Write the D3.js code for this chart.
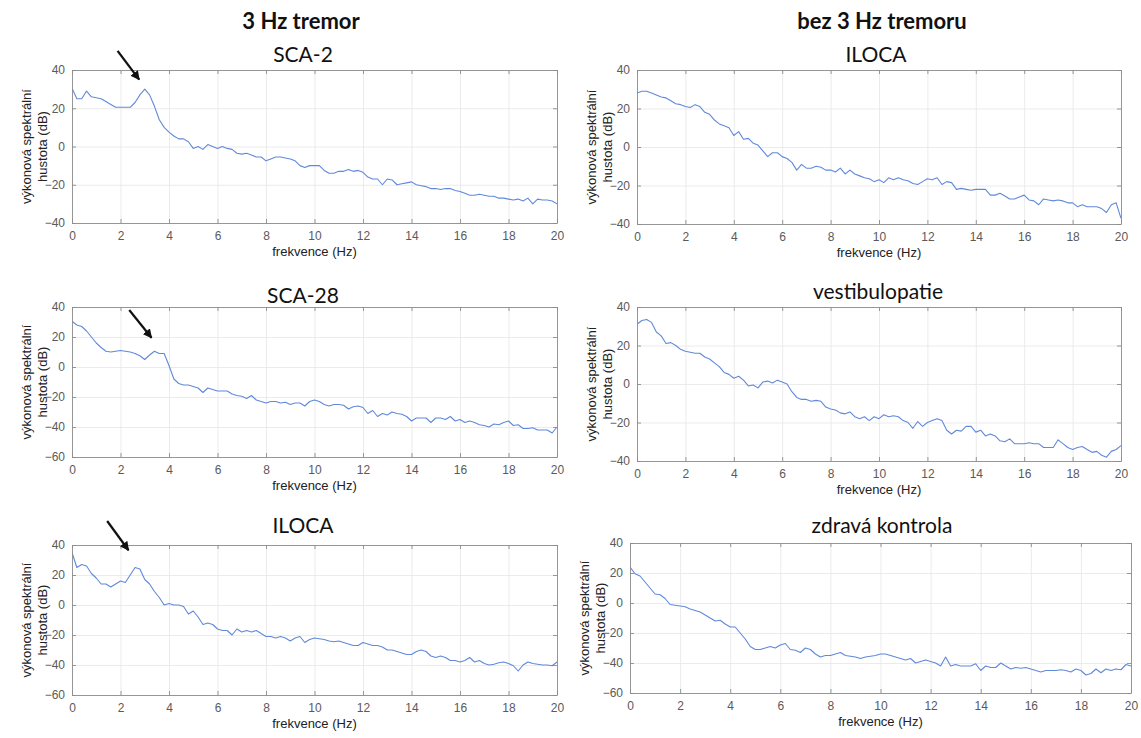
<!DOCTYPE html>
<html>
<head>
<meta charset="utf-8">
<script src="https://cdn.jsdelivr.net/npm/d3@7"></script>
<style>
  body { margin: 0; background: #fff; }
  svg { display: block; }
</style>
</head>
<body>
<svg id="fig" width="1141" height="738"></svg>
<script>
// Power spectral density (dB) sampled every 0.2 Hz from 0 to 20 Hz.
const freqStep = 0.2;

const sca2Db = [30.5, 25, 25, 29, 26, 25.5, 25, 23.5, 22, 20.5,
  20.5, 20.5, 20.5, 23, 27, 30, 27, 21, 14, 10,
  7.5, 5.5, 4, 4, 2.5, -1, 0, -1.5, 1, 0,
  -1, 0, -1, -1.5, -3.5, -4, -3.5, -4.5, -5.5, -5.5,
  -7.5, -6.5, -5.5, -5.5, -6, -6.5, -7.5, -10, -11, -10,
  -10, -10, -12.5, -14, -14, -13, -13, -12, -13, -12.5,
  -13.5, -16, -17, -17, -20, -17, -17.5, -20, -19.5, -19,
  -18.5, -20, -20.5, -21, -22, -22, -22.5, -22, -22, -23,
  -23.5, -24.5, -25.5, -25.5, -25, -25.5, -26, -26, -27, -27,
  -27.5, -28, -27.5, -28.5, -27, -30, -27.5, -28, -28, -28.5, -30];

const ilocaNoTremorDb = [28, 29, 29, 28, 27, 26, 25.5, 24, 22.5, 22,
  21, 20.5, 22, 21, 18, 17, 14, 12, 11, 10,
  6, 8, 4, 4.5, 2, 1, -2, -5, -3, -3,
  -5, -6, -8, -12, -9, -11, -11, -10, -10.5, -12,
  -12, -13, -11, -14, -12, -14, -15, -16, -16.5, -18,
  -17, -18.5, -16, -17, -16, -17, -17.5, -19, -19.5, -18,
  -16.5, -17, -16, -19.5, -18, -18.5, -22, -21.5, -22, -22.5,
  -22, -22, -22, -25, -25, -24, -25.5, -27, -27, -26,
  -25, -27.5, -28, -30, -27, -27.5, -28, -27.5, -28, -29,
  -29, -31, -30, -31, -31, -31, -32, -34, -30, -29, -37];

const sca28Db = [30.5, 28, 27, 24, 20, 16, 13, 10.5, 10, 10.5,
  11, 10.5, 10, 9, 7.5, 5, 8, 10.5, 9, 9,
  1, -8, -11, -12, -12, -13, -14, -17, -14, -15,
  -16, -16, -16, -18, -19, -19.5, -21, -19, -22, -23,
  -24, -23, -23, -24, -23.5, -25, -24, -24, -26, -23,
  -22, -23, -25, -26, -25, -25, -25.5, -28, -26.5, -26,
  -27, -31, -29, -33, -31, -32, -30, -31, -31.5, -33,
  -36, -34, -34, -34, -37, -34, -34, -35, -33, -36,
  -35, -37, -36, -37, -38.5, -39, -40, -38, -38.5, -37,
  -36, -39, -38.5, -41, -41, -40.5, -42, -42, -42, -44, -40];

const vestibulopathyDb = [31, 33, 33.5, 32, 27, 25, 21, 21.5, 20, 18,
  17, 16.5, 16, 16, 14, 13, 11, 9, 6, 5,
  3, 4, 2, -1, -0.5, -2, 1, 1.5, 0.5, 2,
  1, 0, -4, -7, -8, -8, -9, -8.5, -9, -12,
  -13, -13.5, -15, -15.5, -14.5, -17, -18, -17, -19, -17,
  -18, -16, -17, -16.5, -17, -19, -20, -23, -19.5, -22,
  -20, -19, -18, -19, -24, -26, -24, -24.5, -22, -22,
  -25, -24, -27, -26, -27, -29.5, -30, -28.5, -31, -31,
  -31, -30.5, -31, -31, -33, -33, -33, -29, -31, -33,
  -34, -33, -32.5, -34, -35.5, -35, -37, -38, -35, -34, -32];

const iloca3HzDb = [35, 25, 27, 26, 21, 18, 14, 14, 12, 14,
  16, 15, 20, 25, 24, 17, 14, 9, 5, 0,
  1, 0, 0, -1, -6, -4, -8, -13, -12, -13,
  -16, -17, -17, -20, -16, -18, -17, -18, -17, -19,
  -21, -21, -22, -21, -22, -24, -22, -21, -25, -23,
  -22, -22.5, -23, -24, -24.5, -24, -25, -26, -27, -27,
  -25, -26, -27, -27, -28, -30, -30, -31, -32, -33,
  -33, -31, -30, -31, -34, -35, -34, -35, -37, -37,
  -38, -37, -35, -38, -37, -39, -40, -39.5, -38.5, -38,
  -39, -40.5, -44, -40, -38, -39, -39.5, -40, -40, -40.5, -38];

const healthyControlDb = [24, 19.5, 18, 14, 10, 6, 5.5, 3, -1, -1.5,
  -2, -2.5, -4, -5, -6, -8, -10, -12, -11.5, -14,
  -16, -16, -20, -24, -29, -31, -31, -30, -29, -30,
  -28, -27, -31, -31.5, -33, -30, -31, -34, -36, -35,
  -35, -34, -33, -35, -35.5, -36, -37, -36, -35.5, -35,
  -34, -34, -35, -36, -37, -38, -37, -40, -39, -38,
  -39, -40, -42, -36, -42, -41, -42, -42, -42, -40.5,
  -45, -42, -43, -43, -40, -42, -44, -43, -43.5, -43,
  -44, -45, -46, -45, -45, -45, -44.5, -45, -46, -44,
  -45, -48, -47, -44, -46.5, -44, -45, -44, -44.5, -41, -42];

const groupHeaders = ["3 Hz tremor", "bez 3 Hz tremoru"];
const panelTitles = ["SCA-2", "ILOCA", "SCA-28", "vestibulopatie", "ILOCA", "zdravá kontrola"];
const xTicks = [0, 2, 4, 6, 8, 10, 12, 14, 16, 18, 20];
const yTicksWide = [-60, -40, -20, 0, 20, 40];
const yTicksNarrow = [-40, -20, 0, 20, 40];
const xLabel = "frekvence (Hz)";
const yLabelLines = ["výkonová spektrální", "hustota (dB)"];

// Arrows pointing at the ~3 Hz peak: [fromHz, fromDb, toHz, toDb]
const peakArrowSca2 = [1.88, 50, 2.77, 35];
const peakArrowSca28 = [2.36, 38, 3.28, 19.5];
const peakArrowIloca = [1.45, 56, 2.33, 36.5];

const lineColor = "#6189da";

const panels = [
  { values: sca2Db, title: panelTitles[0], yTicks: yTicksNarrow, arrow: peakArrowSca2,
    left: 72, right: 557, top: 70, bottom: 223, titleX: 303, titleY: 62 },
  { values: ilocaNoTremorDb, title: panelTitles[1], yTicks: yTicksNarrow, arrow: null,
    left: 637, right: 1121, top: 70, bottom: 224, titleX: 876, titleY: 62 },
  { values: sca28Db, title: panelTitles[2], yTicks: yTicksWide, arrow: peakArrowSca28,
    left: 72, right: 557, top: 307, bottom: 457, titleX: 303, titleY: 303 },
  { values: vestibulopathyDb, title: panelTitles[3], yTicks: yTicksNarrow, arrow: null,
    left: 637, right: 1121, top: 307, bottom: 461, titleX: 878, titleY: 299 },
  { values: iloca3HzDb, title: panelTitles[4], yTicks: yTicksWide, arrow: peakArrowIloca,
    left: 72, right: 557, top: 545, bottom: 695, titleX: 303, titleY: 533 },
  { values: healthyControlDb, title: panelTitles[5], yTicks: yTicksWide, arrow: null,
    left: 630, right: 1131, top: 543, bottom: 693, titleX: 882, titleY: 533 }
];

const svg = d3.select("#fig");

const defs = svg.append("defs");
defs.append("marker")
  .attr("id", "arrowHead")
  .attr("viewBox", "0 0 10 10")
  .attr("refX", 9).attr("refY", 5)
  .attr("markerWidth", 4.2).attr("markerHeight", 4.2)
  .attr("markerUnits", "strokeWidth")
  .attr("orient", "auto")
  .append("path")
  .attr("d", "M0,0 L10,5 L0,10 z")
  .attr("fill", "#111");

// Column headers
svg.append("text")
  .attr("x", 301).attr("y", 29)
  .attr("text-anchor", "middle")
  .style("font-family", "Lato, 'Open Sans', sans-serif")
  .style("font-weight", "bold").style("font-size", "22px").style("fill", "#111")
  .text(groupHeaders[0]);
svg.append("text")
  .attr("x", 882).attr("y", 29)
  .attr("text-anchor", "middle")
  .style("font-family", "Lato, 'Open Sans', sans-serif")
  .style("font-weight", "bold").style("font-size", "22px").style("fill", "#111")
  .text(groupHeaders[1]);

panels.forEach((p, idx) => {
  const w = p.right - p.left;
  const h = p.bottom - p.top;
  const yDomain = d3.extent(p.yTicks);
  const x = d3.scaleLinear().domain([0, 20]).range([0, w]);
  const y = d3.scaleLinear().domain(yDomain).range([h, 0]);

  const g = svg.append("g").attr("transform", `translate(${p.left},${p.top})`);

  // grid
  g.append("g").attr("class", "grid")
    .attr("transform", `translate(0,${h})`)
    .call(d3.axisBottom(x).tickValues(xTicks).tickSize(-h).tickFormat(""))
    .call(s => s.select(".domain").remove())
    .call(s => s.selectAll("line").attr("stroke", "#e6e6e6").attr("stroke-width", 0.8));
  g.append("g").attr("class", "grid")
    .call(d3.axisLeft(y).tickValues(p.yTicks).tickSize(-w).tickFormat(""))
    .call(s => s.select(".domain").remove())
    .call(s => s.selectAll("line").attr("stroke", "#e6e6e6").attr("stroke-width", 0.8));

  // clip for the trace
  const clipId = "clip" + idx;
  defs.append("clipPath").attr("id", clipId)
    .append("rect").attr("x", 0).attr("y", 0).attr("width", w).attr("height", h);

  const line = d3.line()
    .x((d, i) => x(i * freqStep))
    .y(d => y(d));

  g.append("path")
    .datum(p.values)
    .attr("clip-path", `url(#${clipId})`)
    .attr("fill", "none")
    .attr("stroke", lineColor)
    .attr("stroke-width", 1.1)
    .attr("stroke-linejoin", "round")
    .attr("d", line);

  const axisStyle = s => {
    s.select(".domain").attr("stroke", "#8c8c8c").attr("stroke-width", 0.9);
    s.selectAll(".tick line").attr("stroke", "#8c8c8c").attr("stroke-width", 0.9);
    s.selectAll("text")
      .style("font-family", "'Liberation Sans', Arial, sans-serif")
      .style("font-size", "12px").style("fill", "#5a5a5a");
  };

  g.append("g").attr("transform", `translate(0,${h})`)
    .call(d3.axisBottom(x).tickValues(xTicks).tickSizeInner(-4).tickSizeOuter(0).tickPadding(8))
    .call(axisStyle);
  g.append("g")
    .call(d3.axisTop(x).tickValues(xTicks).tickSizeInner(-4).tickSizeOuter(0).tickFormat(""))
    .call(axisStyle);
  g.append("g")
    .call(d3.axisLeft(y).tickValues(p.yTicks).tickSizeInner(-4).tickSizeOuter(0).tickPadding(7)
      .tickFormat(d3.format("d")))
    .call(axisStyle);
  g.append("g").attr("transform", `translate(${w},0)`)
    .call(d3.axisRight(y).tickValues(p.yTicks).tickSizeInner(-4).tickSizeOuter(0).tickFormat(""))
    .call(axisStyle);

  // x label
  g.append("text")
    .attr("x", w / 2).attr("y", h + 33)
    .attr("text-anchor", "middle")
    .style("font-family", "'Liberation Sans', Arial, sans-serif")
    .style("font-size", "13px").style("fill", "#222")
    .text(xLabel);

  // y label (two lines)
  const yl = g.append("text")
    .attr("transform", `translate(-35,${h / 2}) rotate(-90)`)
    .attr("text-anchor", "middle")
    .style("font-family", "'Liberation Sans', Arial, sans-serif")
    .style("font-size", "13px").style("fill", "#222");
  yl.append("tspan").attr("x", 0).attr("dy", "-0.45em").text(yLabelLines[0]);
  yl.append("tspan").attr("x", 0).attr("dy", "1.25em").text(yLabelLines[1]);

  // panel title
  svg.append("text")
    .attr("x", p.titleX).attr("y", p.titleY)
    .attr("text-anchor", "middle")
    .style("font-family", "Lato, 'Open Sans', sans-serif")
    .style("font-size", "21px").style("fill", "#111")
    .text(p.title);

  // peak arrow
  if (p.arrow) {
    const [x0, y0, x1, y1] = p.arrow;
    g.append("line")
      .attr("x1", x(x0)).attr("y1", y(y0))
      .attr("x2", x(x1)).attr("y2", y(y1))
      .attr("stroke", "#111").attr("stroke-width", 2.2)
      .attr("marker-end", "url(#arrowHead)");
  }
});
</script>
</body>
</html>
